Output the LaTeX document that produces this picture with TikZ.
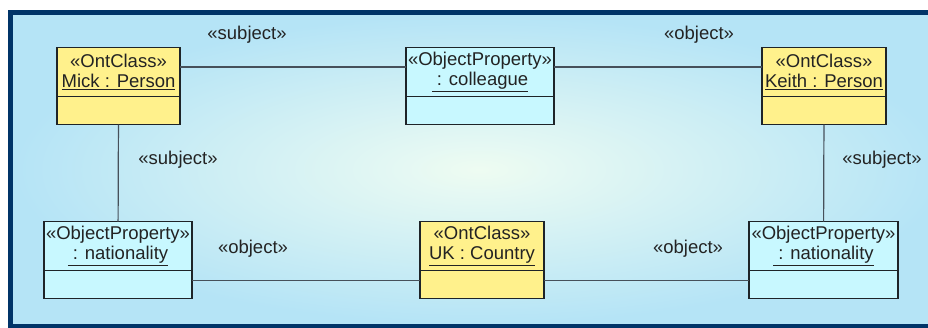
\documentclass[tikz,border=0pt]{standalone}
\usepackage{fontspec}
\setmainfont{Liberation Sans}
\usetikzlibrary{positioning}

\definecolor{frameblue}{RGB}{0,52,104}
\definecolor{bgedge}{RGB}{181,228,246}
\definecolor{bgmid}{RGB}{238,252,242}
\definecolor{ontfill}{RGB}{255,241,140}
\definecolor{propfill}{RGB}{200,248,255}
\definecolor{boxline}{RGB}{30,36,40}
\definecolor{connline}{RGB}{70,80,90}
\definecolor{txt}{RGB}{35,35,35}

\begin{document}
\begin{tikzpicture}[x=1pt,y=-1pt,
   box/.style={draw=boxline, line width=1.4pt, outer sep=0pt, inner sep=0pt,
               align=center, text=txt, font=\fontsize{18.5}{20}\selectfont},
   ont/.style={box, fill=ontfill, minimum width=#1, minimum height=49pt},
   prop/.style={box, fill=propfill, minimum width=#1, minimum height=49pt},
   ontpart/.style={box, fill=ontfill, minimum width=#1, minimum height=28pt},
   proppart/.style={box, fill=propfill, minimum width=#1, minimum height=28pt},
   lbl/.style={text=txt, font=\fontsize{18.5}{20}\selectfont, inner sep=0pt},
   conn/.style={draw=connline, line width=1.2pt}]
   \useasboundingbox (0,0) rectangle (928,327);
   \clip (0,0) rectangle (928,327);

   % background and frame
   \shade[inner color=bgmid, outer color=bgedge] (13,15) rectangle (945,324);
   \draw[frameblue, line width=5pt] (945,12.5) -- (10.5,12.5) -- (10.5,326.5) -- (945,326.5);

   % top row
   \node[ont=123pt]  (mick)  at (118.5,72) {«OntClass»\\\underline{Mick : Person}};
   \node[prop=148pt] (coll)  at (480,72)   {«ObjectProperty»\\\underline{\ : colleague}};
   \node[ont=124pt]  (keith) at (824,72)   {«OntClass»\\\underline{Keith : Person}};
   \node[ontpart=123pt]  (mick_c)  [below=0pt of mick]  {};
   \node[proppart=148pt] (coll_c)  [below=0pt of coll]  {};
   \node[ontpart=124pt]  (keith_c) [below=0pt of keith] {};

   % bottom row
   \node[prop=148pt] (natl) at (118,246)   {«ObjectProperty»\\\underline{\ : nationality}};
   \node[ont=124pt]  (uk)   at (482,246)   {«OntClass»\\\underline{UK : Country}};
   \node[prop=149pt] (natr) at (823.5,246) {«ObjectProperty»\\\underline{\ : nationality}};
   \node[proppart=148pt] (natl_c) [below=0pt of natl] {};
   \node[ontpart=124pt]  (uk_c)   [below=0pt of uk]   {};
   \node[proppart=149pt] (natr_c) [below=0pt of natr] {};

   % role labels
   \node[lbl] (subj_top)   at (247,35)  {«subject»};
   \node[lbl] (obj_top)    at (699,35)  {«object»};
   \node[lbl] (subj_left)  at (178,160) {«subject»};
   \node[lbl] (subj_right) at (882,160) {«subject»};
   \node[lbl] (obj_left)   at (253,249) {«object»};
   \node[lbl] (obj_right)  at (688,249) {«object»};

   \path[conn]
   ([yshift=5pt]mick.east)  edge ([yshift=5pt]coll.west)
   ([yshift=5pt]coll.east)  edge ([yshift=5pt]keith.west)
   (mick_c)  edge (natl)
   (keith_c) edge (natr)
   ([yshift=4pt]natl_c.east) edge ([yshift=4pt]uk_c.west)
   ([yshift=4pt]uk_c.east)   edge ([yshift=4pt]natr_c.west);
\end{tikzpicture}
\end{document}
